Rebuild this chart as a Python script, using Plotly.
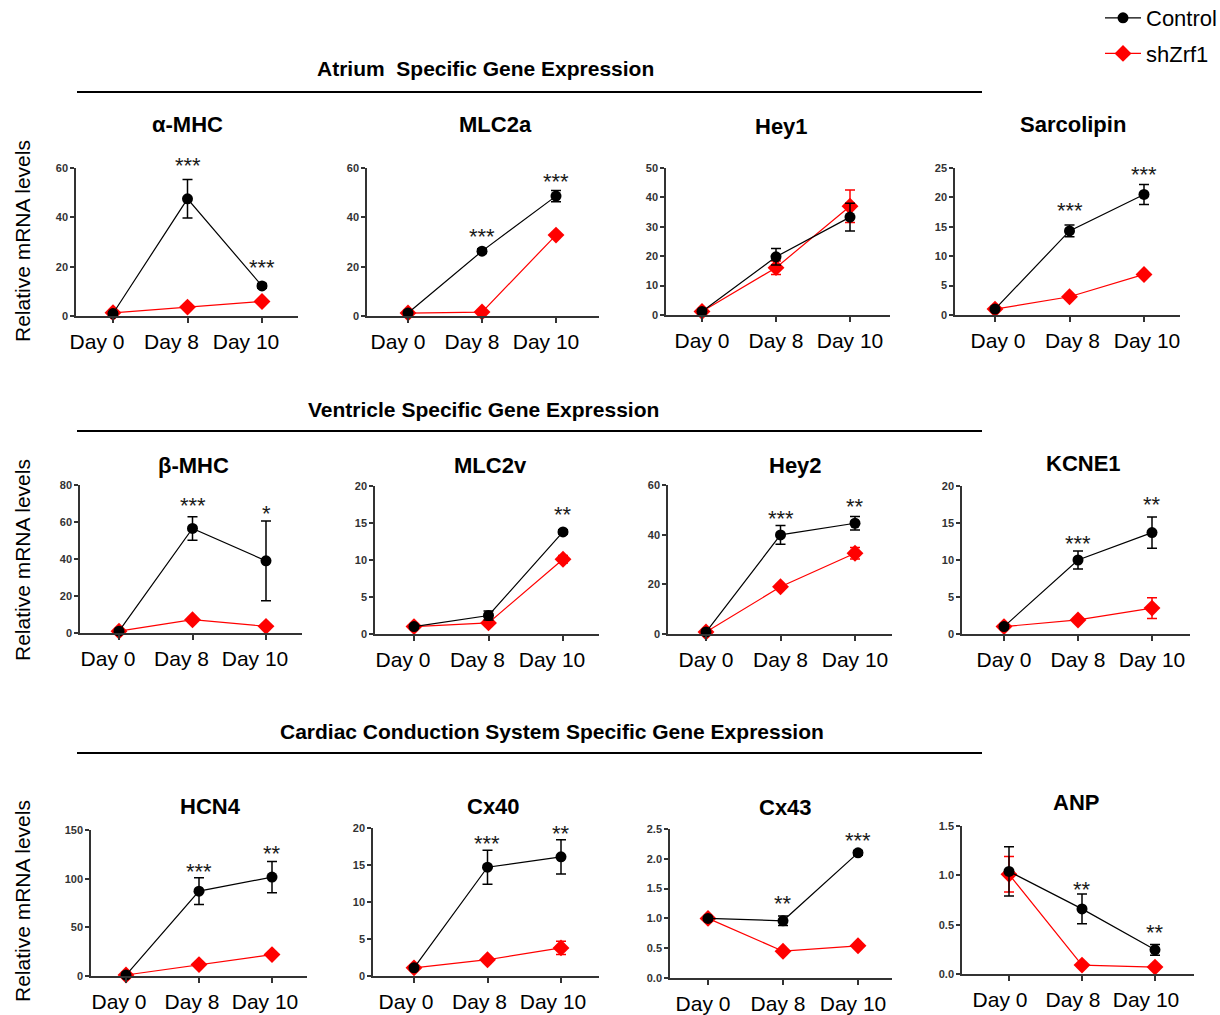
import plotly.graph_objects as go

W, H = 1220, 1015

days = ["Day 0", "Day 8", "Day 10"]
genes = ["α-MHC", "MLC2a", "Hey1", "Sarcolipin",
         "β-MHC", "MLC2v", "Hey2", "KCNE1",
         "HCN4", "Cx40", "Cx43", "ANP"]

control = {
    "α-MHC": [1.0, 47.5, 12.2], "MLC2a": [1.2, 26.3, 48.6], "Hey1": [1.2, 19.8, 33.3],
    "Sarcolipin": [1.0, 14.3, 20.5], "β-MHC": [1.0, 56.5, 39.0], "MLC2v": [1.0, 2.5, 13.8],
    "Hey2": [0.8, 39.9, 44.6], "KCNE1": [1.0, 10.0, 13.7], "HCN4": [1.0, 87.2, 101.6],
    "Cx40": [1.1, 14.7, 16.1], "Cx43": [1.0, 0.96, 2.10], "ANP": [1.04, 0.66, 0.245],
}
control_err = {
    "α-MHC": [None, 7.8, 1.0], "MLC2a": [None, 1.0, 2.3], "Hey1": [None, 2.8, 4.7],
    "Sarcolipin": [None, 1.0, 1.7], "β-MHC": [None, 6.3, 21.5], "MLC2v": [None, 0.6, 0.3],
    "Hey2": [None, 3.8, 2.7], "KCNE1": [None, 1.2, 2.1], "HCN4": [None, 13.7, 16.0],
    "Cx40": [None, 2.3, 2.3], "Cx43": [None, 0.08, 0.04], "ANP": [0.25, 0.15, 0.055],
}
shzrf1 = {
    "α-MHC": [1.3, 3.6, 5.9], "MLC2a": [1.2, 1.6, 32.8], "Hey1": [1.2, 16.1, 37.0],
    "Sarcolipin": [1.0, 3.1, 6.9], "β-MHC": [1.0, 7.2, 3.6], "MLC2v": [1.0, 1.5, 10.1],
    "Hey2": [0.8, 19.0, 32.5], "KCNE1": [1.0, 1.9, 3.5], "HCN4": [1.0, 11.7, 22.0],
    "Cx40": [1.1, 2.2, 3.8], "Cx43": [1.0, 0.45, 0.54], "ANP": [1.01, 0.09, 0.07],
}
shzrf1_err = {
    "α-MHC": [None, None, None], "MLC2a": [None, None, None], "Hey1": [None, 2.3, 5.5],
    "Sarcolipin": [None, None, None], "β-MHC": [None, None, None], "MLC2v": [None, None, 0.5],
    "Hey2": [None, None, 2.3], "KCNE1": [None, None, 1.4], "HCN4": [None, None, None],
    "Cx40": [None, None, 0.9], "Cx43": [None, None, None], "ANP": [0.18, None, None],
}
# significance marks: (day index, text, y value)
stars = {
    "α-MHC": [(1, "***", 62.0), (2, "***", 20.3)],
    "MLC2a": [(1, "***", 32.9), (2, "***", 55.5)],
    "Hey1": [],
    "Sarcolipin": [(1, "***", 18.1), (2, "***", 24.2)],
    "β-MHC": [(1, "***", 70.0), (2, "*", 65.9)],
    "MLC2v": [(2, "**", 16.4)],
    "Hey2": [(1, "***", 47.5), (2, "**", 52.3)],
    "KCNE1": [(1, "***", 12.5), (2, "**", 17.8)],
    "HCN4": [(1, "***", 109.5), (2, "**", 127.7)],
    "Cx40": [(1, "***", 18.2), (2, "**", 19.5)],
    "Cx43": [(1, "**", 1.28), (2, "***", 2.34)],
    "ANP": [(1, "**", 0.878), (2, "**", 0.44)],
}
y_max = [60, 60, 50, 25, 80, 20, 60, 20, 150, 20, 2.5, 1.5]
y_dtick = [20, 20, 10, 5, 20, 5, 20, 5, 50, 5, 0.5, 0.5]

sections = ["Atrium  Specific Gene Expression",
            "Ventricle Specific Gene Expression",
            "Cardiac Conduction System Specific Gene Expression"]

# layout geometry in pixels: axis left, axis right, top, bottom, day0 x, day10 x, label shift
geom = [
    (76, 298, 168, 316, 113, 262, -16), (367, 599, 168, 316, 408, 556, -10),
    (666, 890, 168, 315, 702, 850, 0), (955, 1180, 168, 315, 995, 1144, 3),
    (80, 302, 485, 633, 119, 266, -11), (375, 599, 486, 634, 414, 563, -11),
    (668, 892, 485, 634, 706, 855, 0), (962, 1190, 486, 634, 1004, 1152, 0),
    (91, 307, 830, 976, 126, 272, -7), (373, 599, 828, 976, 414, 561, -8),
    (670, 892, 829, 978, 708, 858, -5), (962, 1194, 826, 974, 1009, 1155, -9),
]
title_pos = [(187, 124), (495, 124), (781, 127), (1073, 125),
             (193, 465), (490, 465), (795, 465), (1083, 463),
             (210, 806), (493, 806), (785, 807), (1076, 802)]
section_pos = [(485, 69, 92), (483, 409, 431), (552, 731, 753)]
ylabel_y = [241, 560, 901]


def px(x):
    return x / W


def py(y):
    return 1 - y / H


FONT = "Liberation Sans, Arial, sans-serif"
fig = go.Figure()
layout = dict(width=W, height=H, margin=dict(l=0, r=0, t=0, b=0, autoexpand=False),
              paper_bgcolor="white", plot_bgcolor="white",
              font=dict(family=FONT, color="black"),
              showlegend=True,
              legend=dict(x=px(1100), y=py(-3), xanchor="left", yanchor="top",
                          font=dict(size=22, family=FONT), bgcolor="rgba(0,0,0,0)",
                          itemwidth=36, tracegroupgap=4, traceorder="grouped"))
annotations = []
shapes = []
xvals = [0, 1, 2]

for i, g in enumerate(genes):
    n = i + 1
    xa = "x" if n == 1 else f"x{n}"
    ya = "y" if n == 1 else f"y{n}"
    l, r, t, b, d0, d10, shift = geom[i]
    s = (d10 - d0) / 2
    xr = [(l - d0) / s, (r - d0) / s]
    fmt = ".1f" if y_max[i] < 5 else "d"
    layout["xaxis" if n == 1 else f"xaxis{n}"] = dict(
        domain=[px(l), px(r)], range=xr, anchor=ya, tickvals=xvals, ticktext=days,
        showline=True, linecolor="#333333", linewidth=1.5, ticks="outside", ticklen=5,
        tickwidth=1.5, tickcolor="#333333", showgrid=False, zeroline=False,
        tickfont=dict(size=21, family=FONT, color="black"), ticklabelstandoff=1,
        ticklabelshift=shift, automargin=False, fixedrange=True)
    layout["yaxis" if n == 1 else f"yaxis{n}"] = dict(
        domain=[py(b), py(t)], range=[0, y_max[i]], anchor=xa, dtick=y_dtick[i],
        tick0=0, tickformat=fmt, showline=True, linecolor="#333333", linewidth=1.5,
        ticks="outside", ticklen=4, tickwidth=1.5, tickcolor="#333333", showgrid=False,
        zeroline=False, tickfont=dict(size=11, family=FONT, color="#333333", weight="bold"),
        automargin=False, fixedrange=True)
    fig.add_trace(go.Scatter(
        x=xvals, y=shzrf1[g], xaxis=xa, yaxis=ya, mode="lines+markers",
        name="shZrf1", legendgroup="s", legendrank=2, showlegend=(n == 1), cliponaxis=False,
        line=dict(color="#ff0000", width=1.2),
        marker=dict(symbol="diamond", size=13, color="#ff0000"),
        error_y=dict(type="data", array=shzrf1_err[g], color="#ff0000",
                     thickness=1.5, width=5, visible=True)))
    fig.add_trace(go.Scatter(
        x=xvals, y=control[g], xaxis=xa, yaxis=ya, mode="lines+markers",
        name="Control", legendgroup="c", legendrank=1, showlegend=(n == 1), cliponaxis=False,
        line=dict(color="black", width=1.2),
        marker=dict(symbol="circle", size=11, color="black"),
        error_y=dict(type="data", array=control_err[g], color="black",
                     thickness=1.5, width=5, visible=True)))
    for (di, txt, yv) in stars[g]:
        annotations.append(dict(x=di, y=yv / y_max[i], xref=xa, yref=f"{ya} domain", text=txt,
                                showarrow=False, yanchor="middle", yshift=-2,
                                font=dict(size=22, family=FONT, color="#1a1a1a")))
    tx, ty = title_pos[i]
    annotations.append(dict(x=px(tx), y=py(ty), xref="paper", yref="paper", text=f"<b>{g}</b>",
                            showarrow=False, xanchor="center", yanchor="middle",
                            font=dict(size=22, family=FONT, color="black")))

for k, sec in enumerate(sections):
    cx, cy, ly = section_pos[k]
    annotations.append(dict(x=px(cx), y=py(cy), xref="paper", yref="paper", text=f"<b>{sec}</b>",
                            showarrow=False, xanchor="center", yanchor="middle",
                            font=dict(size=21, family=FONT, color="black")))
    shapes.append(dict(type="line", xref="paper", yref="paper", x0=px(77), x1=px(982),
                       y0=py(ly), y1=py(ly), line=dict(color="black", width=2)))
    annotations.append(dict(x=px(22), y=py(ylabel_y[k]), xref="paper", yref="paper",
                            text="Relative mRNA levels", textangle=-90, showarrow=False,
                            xanchor="center", yanchor="middle",
                            font=dict(size=21, family=FONT, color="black")))

layout["annotations"] = annotations
layout["shapes"] = shapes
fig.update_layout(**layout)
fig.write_html("out.html", config={"displayModeBar": False},
               post_script="document.body.style.margin='0';document.body.style.padding='0';")
